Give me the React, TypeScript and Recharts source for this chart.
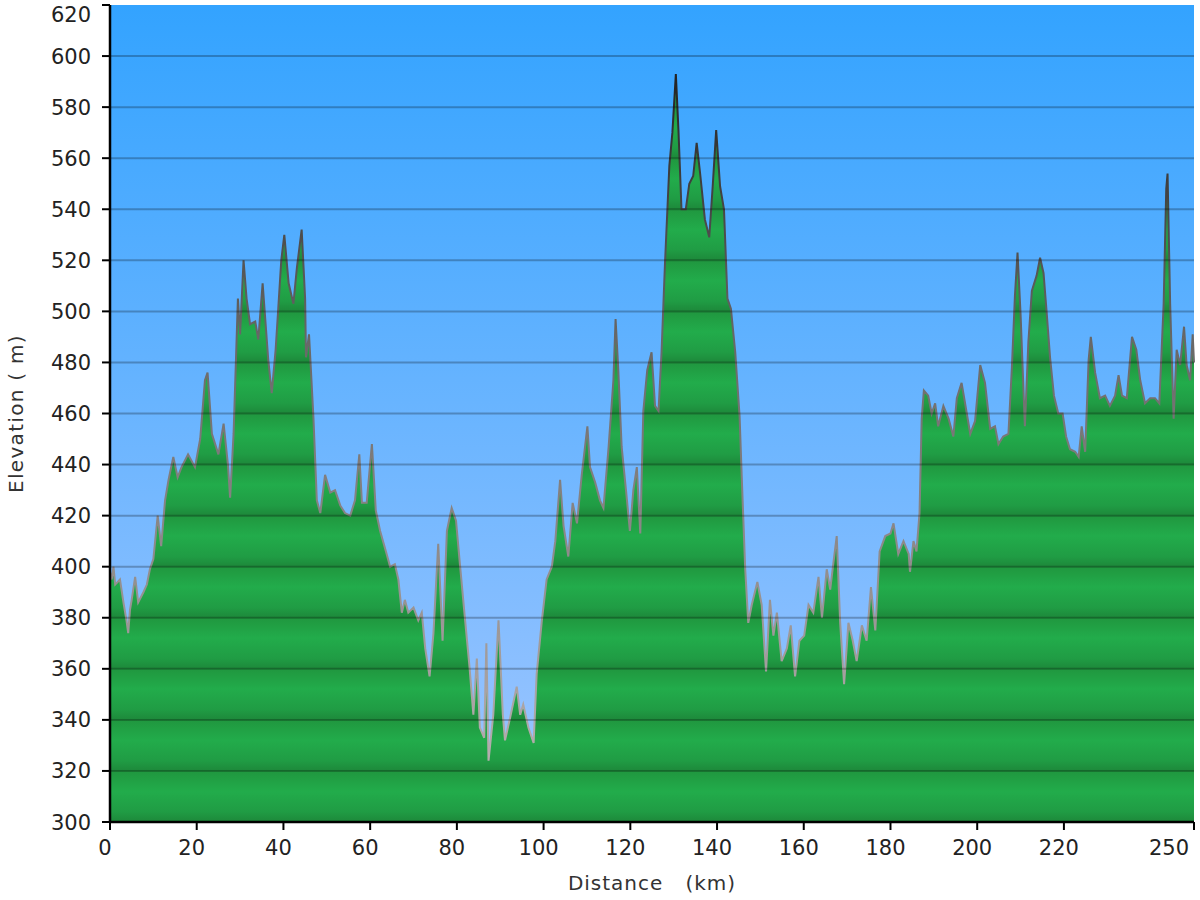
import React from "react";
import { AreaChart, Area, XAxis, YAxis, CartesianGrid, ReferenceLine } from "recharts";

const distanceKm = [
  0, 0.4, 0.8, 1.2, 2.3, 3.1, 3.8, 4.2, 4.6, 5, 5.8, 6.5, 7.7, 8.5, 9.2, 10, 11, 11.8, 12.7, 13.5,
  14.6, 15.6, 16.5, 18, 19.6, 20.8, 21.9, 22.5, 23.5, 25, 26.2, 27.2, 27.7, 28.5, 29.5, 30, 30.8,
  31.5, 32.3, 33.5, 34.2, 35.2, 36.5, 37.3, 38.2, 38.8, 39.5, 40.2, 41.2, 42.3, 43.1, 44.2, 45,
  45.2, 45.9, 46.9, 47.7, 48.5, 49.6, 50.8, 51.9, 53.1, 54.2, 55.4, 56.5, 57.5, 58.1, 59.2, 60.4,
  61.3, 62.3, 63.8, 64.6, 65.7, 66.5, 67.3, 68, 68.8, 70, 71.1, 71.9, 72.7, 73.7, 74.6, 75.7, 76.7,
  77.7, 78.8, 79.8, 80.7, 81.9, 82.9, 83.8, 84.6, 85.3, 86.3, 86.8, 87.3, 88.4, 89.6, 90.6, 91.1,
  92.3, 93.8, 94.6, 95.3, 96.5, 97.7, 98.4, 99.6, 100.7, 101.9, 102.7, 103.8, 104.6, 105.7, 106.7,
  107.7, 108.8, 110.1, 110.7, 111.9, 113, 113.8, 115, 116.1, 116.6, 117.2, 118, 119, 119.9, 120.7,
  121.5, 122.3, 123, 123.9, 124.9, 125.7, 126.5, 127.2, 128, 129, 129.7, 130.5, 131.1, 131.8,
  132.8, 133.6, 134.5, 135.3, 136.1, 137.2, 138.2, 139, 139.8, 140.7, 141.6, 142.4, 143.2, 144.2,
  145.2, 145.7, 146.5, 147.2, 148, 149.3, 150.3, 151.3, 152.2, 153, 153.8, 154.9, 156.1, 157, 158,
  159, 160.1, 161.1, 162.2, 163.4, 164.2, 165.3, 166.1, 166.8, 167.6, 168.4, 169.3, 170.3, 171.3,
  172.2, 173.4, 174.5, 175.5, 176.5, 177.5, 178.8, 180, 180.7, 181.8, 183, 184.2, 184.5, 185.3, 186,
  186.7, 187.2, 187.7, 188.7, 189.5, 190.3, 191, 192.2, 193.4, 194.5, 195.3, 196.4, 197.2, 198.4,
  199.5, 200.7, 201.8, 203, 204.1, 204.9, 206, 207.2, 208, 208.7, 209.3, 210, 211, 211.8, 212.6,
  213.7, 214.5, 215.3, 216, 216.8, 217.7, 218.7, 219.7, 220.5, 221.4, 222.6, 223.4, 224.1, 224.9,
  225.7, 226.2, 227.2, 228.3, 229.5, 230.6, 231.8, 232.6, 233.4, 234.5, 235.7, 236.7, 237.6, 238.7,
  239.9, 241, 242, 243, 243.6, 243.9, 244.5, 245.3, 246, 246.8, 247.7, 248.3, 249.1, 249.7, 250,
];

const elevationM = [
  398, 395, 400, 393, 395, 386, 379, 374, 383, 387, 396, 386, 390, 393, 399, 403, 420, 408, 426, 434,
  443, 435, 439, 444, 439, 450, 473, 476, 452, 444, 456, 440, 427, 452, 505, 491, 520,
  505, 495, 496, 489, 511, 481, 468, 485, 501, 520, 530, 511, 503, 517, 532, 505,
  482, 491, 459, 426, 421, 436, 429, 430, 424, 421, 420, 426, 444, 425, 425, 448,
  422, 414, 405, 400, 401, 395, 382, 387, 382, 384, 379, 382, 368, 357, 374, 409, 371,
  414, 423, 418, 401, 379, 361, 342, 364, 337, 333, 370, 324, 342, 379, 342, 332,
  341, 353, 342, 346, 337, 331, 358, 379, 395, 400, 410, 434, 416, 404, 425,
  417, 436, 455, 439, 433, 426, 423, 447, 473, 497, 478, 447, 430, 414, 430,
  439, 413, 461, 477, 484, 463, 461, 484, 519, 557, 570, 593, 571, 540,
  540, 550, 553, 566, 554, 536, 529, 549, 571, 549, 540, 505, 501, 484,
  459, 435, 399, 378, 385, 394, 385, 359, 387, 373, 382, 363, 368, 377, 357,
  371, 373, 385, 382, 396, 380, 399, 391, 401, 412, 378, 354, 378, 371,
  363, 377, 371, 392, 375, 406, 412, 413, 417, 405, 410, 405, 398, 410, 406,
  421, 458, 469, 467, 460, 464, 455, 463, 458, 451, 466, 472, 464, 452,
  457, 479, 472, 454, 455, 448, 451, 452, 478, 506, 523, 499, 455, 488, 508,
  514, 521, 515, 500, 482, 467, 460, 460, 451, 446, 445, 443, 455, 445,
  481, 490, 476, 466, 467, 463, 467, 475, 467, 466, 490, 485, 473, 464,
  466, 466, 464, 503, 548, 554, 503, 458, 485, 479, 494, 479, 473, 491, 480,
];

const yTicks = [300, 320, 340, 360, 380, 400, 420, 440, 460, 480, 500, 520, 540, 560, 580, 600, 620];
const xTicks = [0, 20, 40, 60, 80, 100, 120, 140, 160, 180, 200, 220, 250];

const data = distanceKm.map((d, i) => ({ d, e: elevationM[i] }));

const FONT = "'DejaVu Sans', Verdana, sans-serif";

const XTick = (props: any) => {
  const { x, y, payload } = props;
  const last = payload.value === 250;
  return (
    <text
      x={x - 5}
      y={y + 15}
      textAnchor={last ? "end" : "middle"}
      fontSize={21}
      fontFamily={FONT}
      fill="#222"
    >
      {payload.value}
    </text>
  );
};

const YTick = (props: any) => {
  const { x, y, payload } = props;
  const yy = payload.value === 620 ? y + 9.5 : y;
  return (
    <text x={x} y={yy} dy={7.5} textAnchor="end" fontSize={21} fontFamily={FONT} fill="#222">
      {payload.value}
    </text>
  );
};

export default function App() {
  return (
    <div style={{ position: "absolute", left: 0, top: 0, width: 1200, height: 900, background: "#fff" }}>
      <AreaChart width={1200} height={900} data={data} margin={{ top: 5, right: 6, bottom: 0, left: 0 }}>
        <defs>
          <linearGradient id="sky" x1="0" y1="0" x2="0" y2="1">
            <stop offset="0%" stopColor="#33a3ff" />
            <stop offset="100%" stopColor="#a0c6ff" />
          </linearGradient>
          <linearGradient id="band" x1="0" y1="0" x2="0" y2="1">
            <stop offset="0%" stopColor="#20973f" />
            <stop offset="40%" stopColor="#22ac4b" />
            <stop offset="80%" stopColor="#209c44" />
            <stop offset="100%" stopColor="#1d883a" />
          </linearGradient>
          <pattern id="bands" patternUnits="userSpaceOnUse" x={0} y={5} width={1200} height={51.0625}>
            <rect x={0} y={0} width={1200} height={51.0625} fill="url(#band)" />
          </pattern>
          <linearGradient id="edge" gradientUnits="userSpaceOnUse" x1={0} y1={5} x2={0} y2={822}>
            <stop offset="0%" stopColor="#111" />
            <stop offset="40%" stopColor="#666" />
            <stop offset="100%" stopColor="#c0b8b8" />
          </linearGradient>
        </defs>
        <CartesianGrid horizontal={false} vertical={false} fill="url(#sky)" fillOpacity={1} />
        <XAxis
          type="number"
          dataKey="d"
          domain={[0, 250]}
          ticks={xTicks}
          interval={0}
          height={78}
          tickSize={8}
          tickMargin={10}
          axisLine={{ stroke: "#000", strokeWidth: 2.5 }}
          tickLine={{ stroke: "#000", strokeWidth: 2 }}
          tick={<XTick />}
          label={{
            value: "Distance\u00a0\u00a0\u00a0(km)",
            position: "insideBottom",
            offset: 10,
            style: { fontSize: 20, fontFamily: FONT, fill: "#333", letterSpacing: 1 },
          }}
        />
        <YAxis
          type="number"
          domain={[300, 620]}
          ticks={yTicks}
          interval={0}
          width={110}
          tickSize={8}
          tickMargin={11}
          axisLine={{ stroke: "#000", strokeWidth: 2.5 }}
          tickLine={{ stroke: "#000", strokeWidth: 2 }}
          tick={<YTick />}
          label={{
            value: "Elevation ( m)",
            angle: -90,
            position: "insideLeft",
            offset: 16,
            style: { fontSize: 20, fontFamily: FONT, fill: "#333", textAnchor: "middle", letterSpacing: 1.3 },
          }}
        />
        <Area
          type="linear"
          dataKey="e"
          baseValue={300}
          stroke="url(#edge)"
          strokeWidth={2}
          fill="url(#bands)"
          fillOpacity={1}
          dot={false}
          activeDot={false}
          isAnimationActive={false}
        />
        {yTicks.slice(1, -1).map((v) => (
          <ReferenceLine key={v} y={v} stroke="#000" strokeOpacity={0.25} strokeWidth={2} />
        ))}
      </AreaChart>
    </div>
  );
}
